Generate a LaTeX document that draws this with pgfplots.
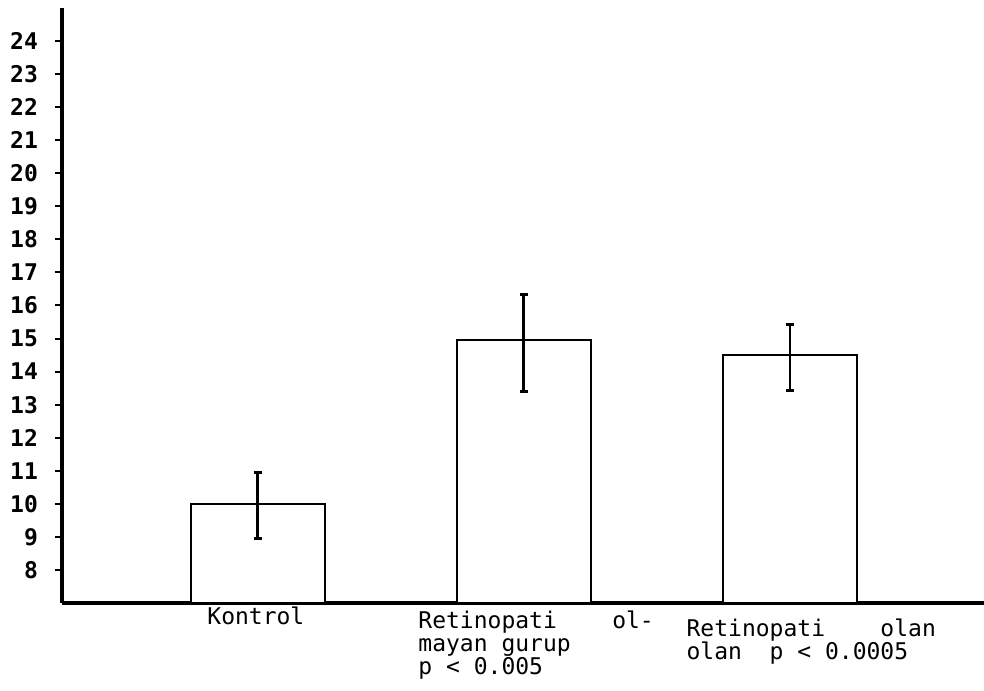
\documentclass[border=0pt]{standalone}
\usepackage{fontspec}
\setmainfont{DejaVu Sans Mono}
\setmonofont{DejaVu Sans Mono}
\usepackage{pgfplots}
\pgfplotsset{compat=1.18}
\begin{document}
\begin{tikzpicture}
\begin{axis}[
  name=ax,
  scale only axis,
  width=461pt, height=297.5pt,
  xmin=-0.735, xmax=2.73,
  ymin=7, ymax=25,
  clip mode=individual,
  axis x line*=bottom,
  axis y line*=left,
  x axis line style={line width=1.8pt},
  y axis line style={line width=1.6pt},
  xtick=\empty,
  ytick={8,...,24},
  tick style={black, line width=1pt},
  major tick length=3.5pt,
  ytick pos=left,
  tick align=outside,
  /pgf/number format/assume math mode=true,
  yticklabel style={font=\fontsize{11.5}{11.5}\selectfont\bfseries, xshift=-5pt},
  ybar, bar width=0.504, bar shift=0pt,
]
\addplot[draw=black, fill=white, line width=1pt,
  error bars/.cd, y dir=both, y explicit,
  error bar style={line width=1.2pt, black},
  error mark options={line width=1.5pt, mark size=2pt, rotate=90, black}]
  coordinates {
    (0,10)   += (0,0.95) -= (0,1.06)
    (1,14.96) += (0,1.37) -= (0,1.55)
    (2,14.5) += (0,0.92) -= (0,1.06)
  };
\node[anchor=north west, inner sep=0pt, align=left, font=\fontsize{11.5}{11.5}\selectfont]
  at (axis cs:-0.19,6.88) {Kontrol};
\node[anchor=north west, inner sep=0pt, align=left, font=\fontsize{11.5}{11.5}\selectfont]
  at (axis cs:0.603,6.76) {Retinopati\ \ \ \ ol-\\mayan gurup\\p < 0.005};
\node[anchor=north west, inner sep=0pt, align=left, font=\fontsize{11.5}{11.5}\selectfont]
  at (axis cs:1.611,6.54) {Retinopati\ \ \ \ olan\\olan\ \ p < 0.0005};
\end{axis}
\pgfresetboundingbox
\path ([xshift=-31pt,yshift=-43.5pt]ax.south west) rectangle ([yshift=4pt]ax.north east);
\end{tikzpicture}
\end{document}
